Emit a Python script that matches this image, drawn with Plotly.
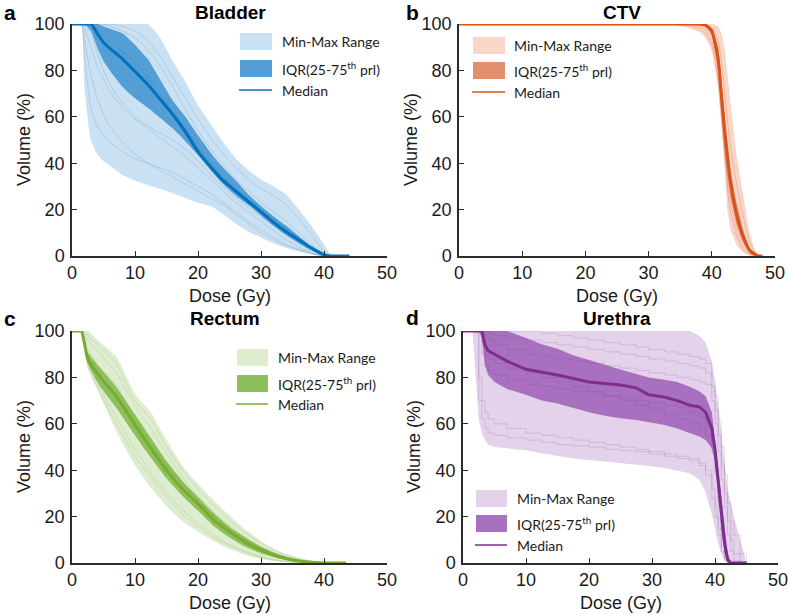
import plotly.graph_objects as go
from plotly.subplots import make_subplots

# ---------------- DATA ----------------
# Bladder
bladder_dose = [0, 1, 1.5, 2, 3, 4, 5, 6, 8, 10, 12, 14, 16, 18, 20, 22, 24, 26, 28, 30, 32, 34, 36, 38, 40, 41, 42, 44]
bladder_min = [100, 100, 100, 72, 50, 44, 41, 39, 35, 32.5, 30.5, 29, 27, 25, 23, 21.5, 18, 14, 10.5, 8, 5.5, 3.5, 2, 0.8, 0, 0, 0, 0]
bladder_max = [100, 100, 100, 100, 100, 100, 100, 100, 100, 100, 100, 94, 84, 75, 65, 57, 49, 42, 37, 33, 30, 26.5, 20, 13, 5, 1, 0, 0]
bladder_q25 = [100, 100, 100, 100, 97, 90, 84, 80, 73, 68, 64, 59.5, 55, 49.5, 43.5, 37, 31, 26, 22, 17.5, 13, 9, 5.5, 2.5, 0.2, 0, 0, 0]
bladder_q75 = [100, 100, 100, 100, 100, 100, 99, 98, 96, 91, 85, 76, 67, 60, 52, 44.5, 38, 32.5, 26.5, 21.5, 17, 13, 8.5, 4, 0.8, 0, 0, 0]
bladder_median = [100, 100, 100, 100, 100, 96, 92, 89.5, 85, 79.5, 74, 67.5, 61, 53.5, 45, 38.5, 32.5, 28, 23.5, 19, 14.5, 10.5, 7, 3.5, 0.5, 0, 0, 0]
bladder_patients = [
    [100, 100, 100, 100, 100, 100, 100, 100, 99, 97, 93, 86, 77, 68, 59, 51, 44, 38, 33, 29, 26, 22, 16, 9, 2, 0, 0, 0],
    [100, 100, 100, 100, 100, 98, 95, 92, 88, 83, 77, 70, 62, 55, 47, 40, 34, 29, 24, 20, 16, 12, 8, 4, 0.5, 0, 0, 0],
    [100, 100, 100, 98, 90, 82, 76, 71, 64, 59, 55, 51, 47, 43, 38, 33, 28, 23, 19, 15, 11, 7, 4, 1.5, 0, 0, 0, 0],
    [100, 100, 100, 85, 64, 56, 52, 49, 45, 42, 40, 38, 36, 33, 30, 27, 23, 19, 15, 11.5, 8, 5, 3, 1, 0, 0, 0, 0],
    [100, 100, 100, 100, 96, 88, 80, 74, 66, 60, 56, 53, 50, 46, 41, 35, 30, 25, 21, 17, 13, 9, 5.5, 2.5, 0.2, 0, 0, 0],
    [100, 100, 100, 93, 78, 68, 61, 56, 49, 44, 40, 37, 34, 31, 28, 25, 22, 18, 14, 10, 7, 4.5, 2.5, 1, 0, 0, 0, 0],
    [100, 100, 100, 100, 100, 100, 100, 99, 97, 94, 89, 82, 73, 63, 54, 46, 39, 33, 28, 23, 19, 15, 10, 5, 1, 0, 0, 0],
]

# CTV
ctv_dose = [0, 30, 34, 36, 38, 39, 40, 41, 41.5, 42, 42.5, 43, 44, 45, 46, 47, 47.5, 48]
ctv_min = [100, 100, 99.5, 98.5, 96.5, 94, 88, 72, 57, 40, 19, 11, 4.5, 1.5, 0.3, 0, 0, 0]
ctv_max = [100, 100, 100, 100, 100, 100, 100, 99, 96, 90, 78, 65, 42, 26, 10, 1.5, 0, 0]
ctv_q25 = [100, 100, 100, 100, 99.5, 98.8, 95, 80, 63, 47, 34, 25, 13, 5.5, 1.2, 0.2, 0, 0]
ctv_q75 = [100, 100, 100, 100, 100, 99.7, 98, 90, 77, 62, 49, 37, 22, 11, 3.5, 0.7, 0, 0]
ctv_median = [100, 100, 100, 100, 100, 99.5, 97, 85, 70, 55, 42, 31, 17, 8, 2.5, 0.5, 0, 0]
ctv_patients = [
    [100, 100, 100, 99.8, 99, 97.5, 93, 80, 64, 48, 32, 22, 11, 4, 1, 0, 0, 0],
    [100, 100, 100, 100, 100, 99.8, 98.5, 93, 84, 72, 58, 46, 30, 17, 6, 1, 0, 0],
    [100, 100, 99.8, 99.3, 98, 96, 91, 76, 60, 44, 28, 18, 8, 2.5, 0.5, 0, 0, 0],
    [100, 100, 100, 100, 99.8, 99.5, 97.5, 88, 74, 58, 44, 34, 20, 10, 3, 0.5, 0, 0],
]

# Rectum
rectum_dose = [0, 1, 1.5, 2.5, 4.5, 7, 10, 12.5, 15, 17.5, 20, 22.5, 25, 27.5, 30, 32.5, 35, 37.5, 40, 43.5]
rectum_min = [100, 100, 100, 84, 72, 57, 42, 32.5, 24.5, 18, 13.5, 9.5, 6, 3.5, 1.8, 0.6, 0.1, 0, 0, 0]
rectum_max = [100, 100, 100, 100, 95, 89, 73, 65, 53, 42, 34, 27, 20.5, 14.5, 9.5, 5.5, 3, 1.3, 0.3, 0]
rectum_q25 = [100, 100, 100, 86, 76, 67, 55, 45.5, 36.5, 29, 22.5, 16, 11, 7, 4.2, 2.2, 0.8, 0.2, 0, 0]
rectum_q75 = [100, 100, 100, 91, 84, 76, 64, 54, 44, 35.5, 28.5, 21.5, 15.5, 11, 7, 4, 2, 0.7, 0.1, 0]
rectum_median = [100, 100, 100, 88, 80, 72, 59.5, 49.5, 40, 32, 25.5, 18.5, 13.5, 9, 5.5, 3, 1.3, 0.4, 0.05, 0]
rectum_patients = [
    [100, 100, 100, 96, 90, 82, 68, 58, 47, 37, 29, 22, 16, 11, 7, 4, 2, 0.7, 0.1, 0],
    [100, 100, 100, 87, 75, 63, 49, 39, 30, 23, 17, 12, 8, 5, 2.8, 1.3, 0.5, 0.1, 0, 0],
    [100, 100, 100, 92, 84, 77, 62, 51, 42, 34, 27, 20, 15, 10, 6.5, 3.8, 1.8, 0.6, 0.1, 0],
    [100, 100, 100, 85, 73, 60, 46, 37, 28.5, 21, 15.5, 11, 7.5, 4.5, 2.5, 1, 0.3, 0, 0, 0],
    [100, 100, 100, 98, 93, 86, 70, 62, 50, 40, 32, 25, 18.5, 13, 8.5, 5, 2.6, 1, 0.2, 0],
]

# Urethra
urethra_dose = [0, 1.5, 2.5, 3, 3.5, 4, 5, 7, 10, 12.5, 15, 17.5, 20, 22.5, 25, 27.5, 29.5, 32, 34, 36, 37.5, 38.5, 39.5, 40, 40.5, 41, 41.5, 42, 42.5, 43, 44, 45]
urethra_min = [100, 100, 62, 56, 53, 51, 50, 49.4, 48.6, 47.3, 46, 45, 44.4, 43.8, 43, 42.4, 41.8, 41, 40, 38.7, 36, 30.5, 21, 15, 8.6, 4, 1, 0, 0, 0, 0, 0]
urethra_max = [100, 100, 100, 100, 100, 100, 100, 100, 100, 100, 100, 100, 100, 100, 100, 100, 100, 100, 100, 100, 98, 95, 87, 78, 68, 56, 43, 32, 26, 20, 10, 0]
urethra_q25 = [100, 100, 100, 97, 85, 81, 78, 75, 72.5, 70, 68.7, 66.8, 65, 63.5, 62.4, 61.6, 60.8, 59.5, 58, 56, 54.5, 53, 49.5, 43, 28, 15, 5, 0.5, 0, 0, 0, 0]
urethra_q75 = [100, 100, 100, 100, 100, 100, 100, 100, 97, 94.3, 92.3, 89.5, 87.5, 85.3, 83.4, 81.5, 80, 79, 78, 76, 74, 72, 65, 53, 40, 28, 15, 4, 0.5, 0, 0, 0]
urethra_median = [100, 100, 100, 100, 94, 91.5, 90, 87, 83.5, 82.3, 81, 79.5, 78, 77.4, 76.7, 75.5, 72.5, 71.5, 70, 68, 67.3, 65, 58, 49, 35, 20, 9, 1.5, 0, 0, 0, 0]
urethra_patients = [
    [100, 100, 100, 90, 85, 83, 81, 79, 77, 76, 75, 74, 73, 72, 71, 70, 69, 68, 67, 65, 63, 60, 52, 40, 25, 12, 4, 0.5, 0, 0, 0, 0],
    [100, 100, 100, 100, 100, 99, 98, 97, 96, 95, 94, 93, 92, 91, 90, 89, 88, 87, 86, 85, 84, 82, 76, 66, 55, 42, 30, 18, 10, 4, 0.5, 0],
    [100, 100, 80, 70, 65, 62, 60, 58, 56, 55, 54, 53, 52, 51, 50, 49, 48, 47, 46, 45, 43, 40, 32, 24, 15, 7, 2, 0, 0, 0, 0, 0],
    [100, 100, 100, 95, 90, 88, 86, 84, 82, 80, 78, 76, 74, 72, 70, 68, 66, 64, 62, 60, 58, 55, 48, 38, 26, 14, 5, 1, 0, 0, 0, 0],
    [100, 100, 100, 100, 98, 96, 94, 92, 90, 89, 88, 87, 86, 85, 84, 83, 82, 81, 80, 79, 78, 77, 70, 60, 48, 36, 24, 12, 5, 1, 0, 0],
    [100, 100, 70, 62, 58, 56, 55, 54, 53, 52, 51, 50.5, 50, 49, 48.5, 48, 47, 46, 45, 44, 42, 38, 28, 20, 12, 5, 1, 0, 0, 0, 0, 0],
    [100, 100, 100, 100, 100, 100, 100, 100, 100, 99, 98, 97, 96, 95, 94, 93, 92, 91, 90, 89, 88, 86, 80, 72, 62, 50, 38, 26, 18, 12, 4, 0],
]

panel_titles = ["Bladder", "CTV", "Rectum", "Urethra"]
panel_letters = ["a", "b", "c", "d"]
x_ticks = [0, 10, 20, 30, 40, 50]
y_ticks = [0, 20, 40, 60, 80, 100]
x_title = "Dose (Gy)"
y_title = "Volume (%)"
legend_labels = ["Min-Max Range", "IQR(25-75<sup>th</sup> prl)", "Median"]

# ---------------- STYLE ----------------
W, H = 789, 615
styles = [
    dict(light="rgb(201,225,243)", dark="rgb(84,158,214)", line="rgb(0,114,189)", thin="rgba(40,100,150,0.22)"),
    dict(light="rgb(248,215,201)", dark="rgb(228,142,112)", line="rgb(217,83,25)", thin="rgba(200,70,20,0.30)"),
    dict(light="rgb(222,236,207)", dark="rgb(141,192,92)", line="rgb(119,172,48)", thin="rgba(100,150,40,0.22)"),
    dict(light="rgb(228,209,234)", dark="rgb(170,112,192)", line="rgb(126,47,142)", thin="rgba(110,50,130,0.20)"),
]
panels = [
    (bladder_dose, bladder_min, bladder_max, bladder_q25, bladder_q75, bladder_median, bladder_patients, "spline"),
    (ctv_dose, ctv_min, ctv_max, ctv_q25, ctv_q75, ctv_median, ctv_patients, "spline"),
    (rectum_dose, rectum_min, rectum_max, rectum_q25, rectum_q75, rectum_median, rectum_patients, "spline"),
    (urethra_dose, urethra_min, urethra_max, urethra_q25, urethra_q75, urethra_median, urethra_patients, "linear"),
]

# axis boxes in pixels: (left, right, top, bottom)
boxes = [(72, 387, 24, 256), (459, 775, 24, 256), (72, 387, 331, 563), (463, 778, 331, 563)]
# legend layout in pixels: (box_left, box_right, box1_top, box2_top, line_y, text_x)
legends = [(240, 272, 33, 60, 90, 280), (473, 505, 37, 62, 92, 512),
           (237, 268, 349, 375, 404, 276), (476, 507, 490, 515, 545, 515)]
title_pos = [(230, 13), (622, 13), (225, 318), (617, 318)]
letter_pos = [(2, 13), (404, 13), (2, 318), (404, 317)]
ytitle_x = [24, 411, 24, 414]

def px(x):
    return x / W

def py(y):
    return 1 - y / H

fig = make_subplots(rows=2, cols=2)

font_main = "Liberation Sans, Arial, Helvetica, sans-serif"
font_leg = "Lato, Open Sans, sans-serif"
axis_col = "#2b2b2b"
txt_col = "#1a1a1a"

for i, (dose, vmin, vmax, q25, q75, med, pats, shape) in enumerate(panels):
    r, c = i // 2 + 1, i % 2 + 1
    st = styles[i]
    fig.add_trace(go.Scatter(x=dose + dose[::-1], y=vmax + vmin[::-1], fill="toself",
                             fillcolor=st["light"], line=dict(width=0, shape=shape, smoothing=0.5),
                             mode="lines", showlegend=False, hoverinfo="skip"), row=r, col=c)
    fig.add_trace(go.Scatter(x=dose + dose[::-1], y=q75 + q25[::-1], fill="toself",
                             fillcolor=st["dark"], line=dict(width=0, shape=shape, smoothing=0.5),
                             mode="lines", showlegend=False, hoverinfo="skip"), row=r, col=c)
    for p in pats:
        fig.add_trace(go.Scatter(x=dose, y=p, mode="lines",
                                 line=dict(color=st["thin"], width=0.8,
                                           shape=("hv" if i == 3 else shape), smoothing=0.5),
                                 showlegend=False, hoverinfo="skip"), row=r, col=c)
    fig.add_trace(go.Scatter(x=dose, y=med, mode="lines",
                             line=dict(color=st["line"], width=3, shape=shape, smoothing=0.5),
                             showlegend=False), row=r, col=c)

    L, R, T, B = boxes[i]
    xa = "xaxis" if i == 0 else f"xaxis{i+1}"
    ya = "yaxis" if i == 0 else f"yaxis{i+1}"
    fig.layout[xa].update(domain=[px(L), px(R)], range=[0, 50], tickvals=x_ticks, automargin=False,
                          showline=True, linecolor=axis_col, linewidth=1.5, ticks="inside",
                          ticklen=5, tickwidth=1, tickcolor=axis_col, showgrid=False, zeroline=False,
                          tickfont=dict(family=font_main, size=18, color=txt_col),
                          ticklabelstandoff=0)
    fig.layout[ya].update(domain=[py(B), py(T)], range=[0, 100], tickvals=y_ticks, automargin=False,
                          showline=True, linecolor=axis_col, linewidth=1.5, ticks="inside",
                          ticklen=5, tickwidth=1, tickcolor=axis_col, showgrid=False, zeroline=False,
                          tickfont=dict(family=font_main, size=18, color=txt_col),
                          ticklabelstandoff=2)

    # axis titles
    fig.add_annotation(x=px((L + R) / 2), y=py(B + 40), xref="paper", yref="paper", text=x_title,
                       showarrow=False, xanchor="center", yanchor="middle",
                       font=dict(family=font_main, size=18, color=txt_col))
    fig.add_annotation(x=px(ytitle_x[i]), y=py((T + B) / 2), xref="paper", yref="paper", text=y_title,
                       textangle=-90, showarrow=False, xanchor="center", yanchor="middle",
                       font=dict(family=font_main, size=18, color=txt_col))

    # panel title & letter
    tx, ty = title_pos[i]
    fig.add_annotation(x=px(tx), y=py(ty), xref="paper", yref="paper", text=f"<b>{panel_titles[i]}</b>",
                       showarrow=False, xanchor="center", yanchor="middle",
                       font=dict(family=font_main, size=19, color="black"))
    lx, ly = letter_pos[i]
    fig.add_annotation(x=px(lx), y=py(ly), xref="paper", yref="paper", text=f"<b>{panel_letters[i]}</b>",
                       showarrow=False, xanchor="left", yanchor="middle",
                       font=dict(family=font_main, size=21, color="black"))

    # legend (drawn manually)
    bl, br, b1, b2, ly_, tx_ = legends[i]
    bh = 17
    fig.add_shape(type="rect", xref="paper", yref="paper", x0=px(bl), x1=px(br), y0=py(b1 + bh), y1=py(b1),
                  fillcolor=st["light"], line=dict(width=0))
    fig.add_shape(type="rect", xref="paper", yref="paper", x0=px(bl), x1=px(br), y0=py(b2 + bh), y1=py(b2),
                  fillcolor=st["dark"], line=dict(width=0))
    fig.add_shape(type="line", xref="paper", yref="paper", x0=px(bl - 1), x1=px(br), y0=py(ly_), y1=py(ly_),
                  line=dict(color=st["line"], width=1.5))
    for txt, yy in zip(legend_labels, [b1 + bh / 2, b2 + bh / 2, ly_]):
        fig.add_annotation(x=px(tx_), y=py(yy), xref="paper", yref="paper", text=txt, showarrow=False,
                           xanchor="left", yanchor="middle",
                           font=dict(family=font_leg, size=14, color=txt_col))

fig.update_layout(width=W, height=H, margin=dict(l=0, r=0, t=0, b=0),
                  plot_bgcolor="white", paper_bgcolor="white", showlegend=False)

fig.write_html("out.html")
